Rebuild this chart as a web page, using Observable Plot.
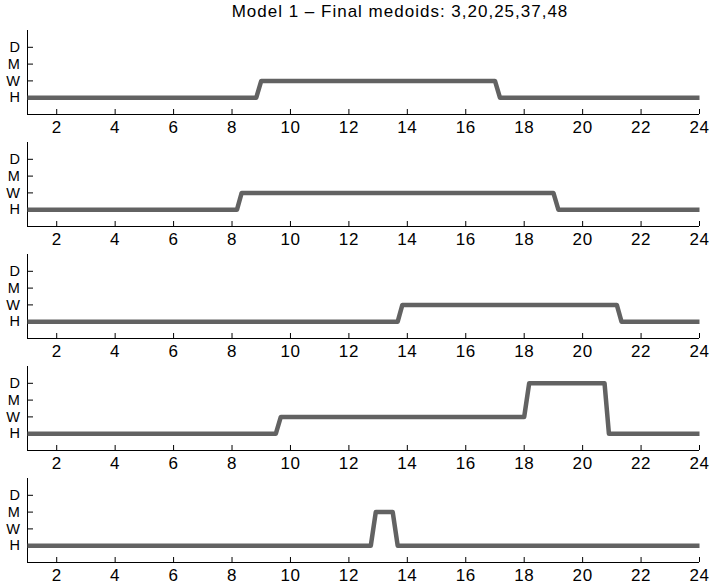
<!DOCTYPE html>
<html><head><meta charset="utf-8">
<script src="https://cdn.jsdelivr.net/npm/d3@7"></script>
<script src="https://cdn.jsdelivr.net/npm/@observablehq/plot@0.6"></script>
<style>
body{margin:0;background:#fff;font-family:"Liberation Sans",Arial,Helvetica,sans-serif;}
#wrap{position:relative;width:711px;height:587px;overflow:hidden;}
#title{position:absolute;left:0;top:3px;width:800px;text-align:center;font-size:17px;line-height:17px;letter-spacing:1px;color:#000;white-space:nowrap;}
.panel{position:absolute;left:0;}
.panel svg text{letter-spacing:0.6px;}
</style></head><body><div id="wrap"><div id="title"></div></div>
<script>
const titleText = "Model 1 – Final medoids: 3,20,25,37,48";
const stateLabels = ["H", "W", "M", "D"];
const xTicks = [2, 4, 6, 8, 10, 12, 14, 16, 18, 20, 22, 24];

const hours1 = [1, 8.83, 9.0, 17.0, 17.17, 24];
const states1 = ["H", "H", "W", "W", "H", "H"];
const hours2 = [1, 8.17, 8.33, 19.0, 19.17, 24];
const states2 = ["H", "H", "W", "W", "H", "H"];
const hours3 = [1, 13.67, 13.83, 21.17, 21.33, 24];
const states3 = ["H", "H", "W", "W", "H", "H"];
const hours4 = [1, 9.5, 9.67, 18.0, 18.17, 20.75, 20.9, 24];
const states4 = ["H", "H", "W", "W", "D", "D", "H", "H"];
const hours5 = [1, 12.75, 12.92, 13.5, 13.67, 24];
const states5 = ["H", "H", "M", "M", "H", "H"];

const panels = [[hours1, states1], [hours2, states2], [hours3, states3], [hours4, states4], [hours5, states5]];

document.getElementById("title").textContent = titleText;
const wrap = document.getElementById("wrap");
const W = 711, mL = 27, mR = 12, mT = 4, mB = 24, H = 112;
const plotW = W - mL - mR, plotH = H - mT - mB;

panels.forEach(([hours, states], i) => {
  const data = hours.map((h, j) => ({hour: h, level: stateLabels.indexOf(states[j]) + 1}));
  const chart = Plot.plot({
    width: W, height: H,
    marginLeft: mL, marginRight: mR, marginTop: mT, marginBottom: mB,
    x: {domain: [1, 24], label: null},
    y: {domain: [0, 5], label: null},
    style: {fontSize: "17px", fontFamily: "'Liberation Sans', Arial, Helvetica, sans-serif", color: "#000", background: "transparent", overflow: "visible"},
    marks: [
      Plot.axisX(xTicks, {tickSize: 0, tickPadding: 6, fill: "#000", label: null}),
      Plot.axisY([1, 2, 3, 4], {tickSize: 0, tickPadding: 7, fill: "#000", label: null, fontSize: 14.5, tickFormat: d => stateLabels[d - 1]}),
      Plot.tickX(xTicks, {x: d => d, insetTop: plotH - 5, stroke: "#000", strokeWidth: 1}),
      Plot.tickY([1, 2, 3, 4], {y: d => d, insetRight: plotW - 6, stroke: "#000", strokeWidth: 1}),
      Plot.ruleX([1], {stroke: "#000", strokeWidth: 1}),
      Plot.ruleY([0], {stroke: "#000", strokeWidth: 1}),
      Plot.line(data, {x: "hour", y: "level", stroke: "#626262", strokeWidth: 4.5, strokeLinecap: "butt", strokeLinejoin: "round", curve: "linear"})
    ]
  });
  const div = document.createElement("div");
  div.className = "panel";
  div.style.top = (26 + 112 * i) + "px";
  div.appendChild(chart);
  wrap.appendChild(div);
});
</script></body></html>
